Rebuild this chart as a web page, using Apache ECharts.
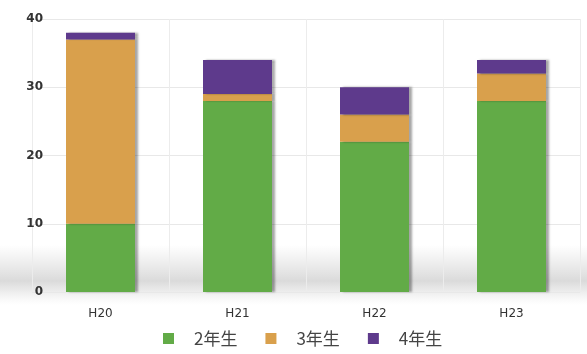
<!DOCTYPE html>
<html>
<head>
<meta charset="utf-8">
<script src="https://cdn.jsdelivr.net/npm/echarts@6/dist/echarts.min.js"></script>
<style>
html,body{margin:0;padding:0;background:#fff;}
#chart{width:587px;height:354px;}
</style>
</head>
<body>
<div id="chart"></div>
<script>
const categories = ['H20', 'H21', 'H22', 'H23'];
const seriesNames = ['2年生', '3年生', '4年生'];
const grade2 = [10, 28, 22, 28];
const grade3 = [27, 1, 4, 4];
const grade4 = [1, 5, 4, 2];
const yTicks = [0, 10, 20, 30, 40];

const colors = ['#62ab47', '#d9a04c', '#5e3a8c'];
const values = [grade2, grade3, grade4];

const chart = echarts.init(document.getElementById('chart'));
chart.setOption({
  animation: false,
  backgroundColor: '#ffffff',
  graphic: [{
    type: 'rect',
    z: -10,
    shape: {x: 0, y: 245, width: 587, height: 60},
    style: {
      fill: new echarts.graphic.LinearGradient(0, 0, 0, 1, [
        {offset: 0, color: 'rgba(160,160,160,0)'},
        {offset: 0.6, color: 'rgba(150,150,150,0.35)'},
        {offset: 0.75, color: 'rgba(170,170,170,0.25)'},
        {offset: 1, color: 'rgba(200,200,200,0)'}
      ])
    }
  }],
  grid: {left: 32, right: 7, top: 19, bottom: 62},
  legend: {
    bottom: 2,
    left: 158,
    icon: 'rect',
    itemWidth: 11,
    itemHeight: 11,
    itemGap: 28,
    textStyle: {fontSize: 17, color: '#444', padding: [0, 0, 0, 15], fontFamily: 'Noto Sans CJK JP'},
    data: seriesNames
  },
  xAxis: {
    type: 'category',
    data: categories,
    axisLine: {show: false},
    axisTick: {show: false},
    splitLine: {show: true, lineStyle: {color: '#ececec'}},
    axisLabel: {color: '#333', fontSize: 12, margin: 16, fontFamily: 'DejaVu Sans'}
  },
  yAxis: {
    type: 'value',
    min: yTicks[0],
    max: yTicks[yTicks.length - 1],
    interval: 10,
    axisLine: {show: false},
    axisTick: {show: false},
    splitLine: {lineStyle: {color: '#e8e8e8'}},
    axisLabel: {color: '#333', fontSize: 12, fontWeight: 'bold', margin: -11, fontFamily: 'DejaVu Sans'}
  },
  series: seriesNames.map((name, i) => ({
    name: name,
    type: 'bar',
    stack: 'total',
    barWidth: 69,
    data: values[i],
    itemStyle: {
      color: colors[i],
      shadowColor: 'rgba(0,0,0,0.35)',
      shadowOffsetX: 3,
      shadowBlur: 2
    }
  }))
});
</script>
</body>
</html>
